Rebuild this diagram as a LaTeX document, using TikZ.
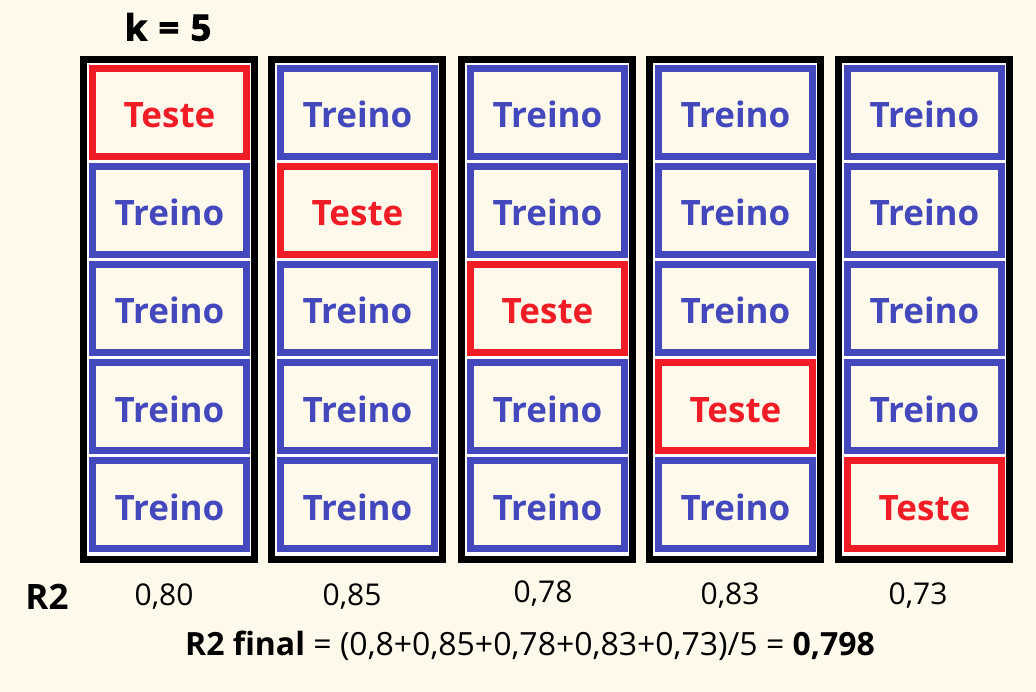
\documentclass[tikz,border=0pt]{standalone}
\usepackage{fontspec}
\setmainfont{Open Sans}
\newfontfamily\kfont[BoldFeatures={FakeBold=2.5}]{Open Sans}
\definecolor{bgc}{RGB}{255,249,236}
\definecolor{tblue}{RGB}{67,72,188}
\definecolor{tred}{RGB}{240,28,38}
\tikzset{
  frame/.style={draw=black, line width=7pt, fill=white, minimum width=171pt, minimum height=500pt, inner sep=0pt},
  cell/.style={line width=7pt, fill=bgc, minimum width=154pt, minimum height=88pt, inner sep=0pt, text height=31pt, text depth=0pt, font=\fontsize{35}{40}\selectfont\bfseries},
  treino/.style={cell, draw=tblue, text=tblue},
  teste/.style={cell, draw=tred, text=tred},
  val/.style={font=\fontsize{30}{36}\selectfont, text=black},
}
\begin{document}
\begin{tikzpicture}[x=1pt,y=-1pt]
\fill[bgc] (0,0) rectangle (1036,692);
\useasboundingbox (0,0) rectangle (1036,692);
\node[font=\kfont\bfseries\fontsize{36}{40}\selectfont] (k) at (168,27) {k\hspace{0.32em}=\hspace{0.32em}5};
\foreach \L [count=\i from 0] in {80,268,458,646,835}{
  \node[frame] (col\i) at (\L+89,309.5) {};
  \foreach \j in {0,...,4}{
    \ifnum\i=\j
      \node[teste] (b\i\j) at (\L+89.5,112.5+\j*98) {Teste};
    \else
      \node[treino] (b\i\j) at (\L+89.5,112.5+\j*98) {Treino};
    \fi
  }
}
\node[font=\fontsize{35}{40}\selectfont\bfseries] (r2) at (47,597) {R2};
\node[val] (v0) at (164,597) {0,80};
\node[val] (v1) at (352,597) {0,85};
\node[val] (v2) at (543,594) {0,78};
\node[val] (v3) at (730,596) {0,83};
\node[val] (v4) at (918,596) {0,73};
\node[val, font=\fontsize{32}{36}\selectfont] (fin) at (530,646) {\textbf{R2 final} = (0,8+0,85+0,78+0,83+0,73)/5 = \textbf{0,798}};
\end{tikzpicture}
\end{document}
